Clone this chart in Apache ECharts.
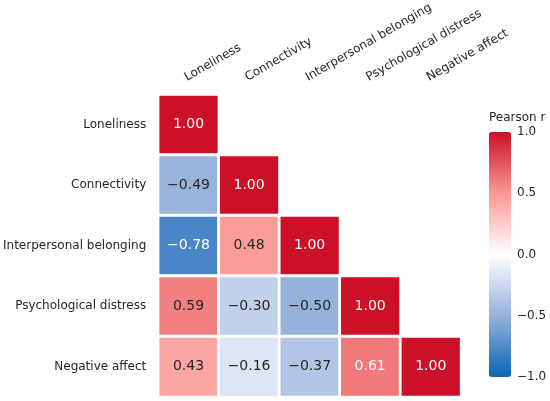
<!DOCTYPE html>
<html>
<head>
<meta charset="utf-8">
<script src="https://cdn.jsdelivr.net/npm/echarts@6/dist/echarts.min.js"></script>
<style>
html,body{margin:0;padding:0;background:#fff;}
#chart{width:550px;height:401px;}
</style>
</head>
<body>
<div id="chart"></div>
<script>
const categories = ['Loneliness','Connectivity','Interpersonal belonging','Psychological distress','Negative affect'];
const rowLoneliness = [1.00];
const rowConnectivity = [-0.49, 1.00];
const rowBelonging = [-0.78, 0.48, 1.00];
const rowDistress = [0.59, -0.30, -0.50, 1.00];
const rowNegAffect = [0.43, -0.16, -0.37, 0.61, 1.00];
const colorbarTicks = [-1.0, -0.5, 0.0, 0.5, 1.0];
const colorStops = ['#0a64b4', '#96b2da', '#ffffff', '#fa9893', '#cb1028'];

const rows = [rowLoneliness, rowConnectivity, rowBelonging, rowDistress, rowNegAffect];
const fmt = v => v.toFixed(2).replace('-', '\u2212');
const data = [];
rows.forEach((row, r) => {
  row.forEach((v, c) => {
    data.push({
      value: [c, r, v],
      label: { color: Math.abs(v) >= 0.6 ? '#ffffff' : '#262626' }
    });
  });
});

const FONT = 'DejaVu Sans';
const chart = echarts.init(document.getElementById('chart'));
chart.setOption({
  animation: false,
  textStyle: { fontFamily: FONT },
  title: {
    text: 'Pearson r',
    left: 489, top: 112, padding: 0,
    textStyle: { fontFamily: FONT, fontSize: 12, fontWeight: 'normal', color: '#262626' }
  },
  grid: [
    { left: 158, top: 94, width: 303, height: 303 },
    { left: 489, top: 132, width: 22, height: 245 }
  ],
  xAxis: [
    {
      type: 'category', data: categories, position: 'top', gridIndex: 0,
      axisLine: { show: false }, axisTick: { show: false }, splitLine: { show: false },
      axisLabel: {
        rotate: -30, interval: 0, margin: 11, verticalAlign: 'bottom',
        fontFamily: FONT, fontSize: 12, color: '#262626'
      }
    },
    { type: 'value', gridIndex: 1, show: false, min: 0, max: 1 }
  ],
  yAxis: [
    {
      type: 'category', data: categories, inverse: true, gridIndex: 0,
      axisLine: { show: false }, axisTick: { show: false }, splitLine: { show: false },
      axisLabel: { margin: 12, fontFamily: FONT, fontSize: 12, color: '#262626' }
    },
    {
      type: 'value', gridIndex: 1, position: 'right',
      min: colorbarTicks[0], max: colorbarTicks[colorbarTicks.length - 1], interval: 0.5,
      axisLine: { show: false }, axisTick: { show: false }, splitLine: { show: false },
      axisLabel: {
        margin: 6, fontFamily: FONT, fontSize: 12, color: '#262626',
        formatter: v => v.toFixed(1).replace('-', '\u2212')
      }
    }
  ],
  visualMap: {
    type: 'continuous', min: -1, max: 1, seriesIndex: 0,
    calculable: false, hoverLink: false,
    orient: 'vertical', left: 489, top: 132, padding: 0,
    itemWidth: 22, itemHeight: 245,
    text: null, showLabel: false,
    inRange: { color: colorStops }
  },
  series: [
    {
      type: 'heatmap', xAxisIndex: 0, yAxisIndex: 0,
      data: data,
      itemStyle: { borderColor: '#ffffff', borderWidth: 2.8 },
      label: {
        show: true, fontFamily: FONT, fontSize: 14,
        formatter: p => fmt(p.value[2])
      }
    },
    {
      type: 'scatter', xAxisIndex: 1, yAxisIndex: 1, data: [], silent: true
    }
  ]
});
</script>
</body>
</html>
